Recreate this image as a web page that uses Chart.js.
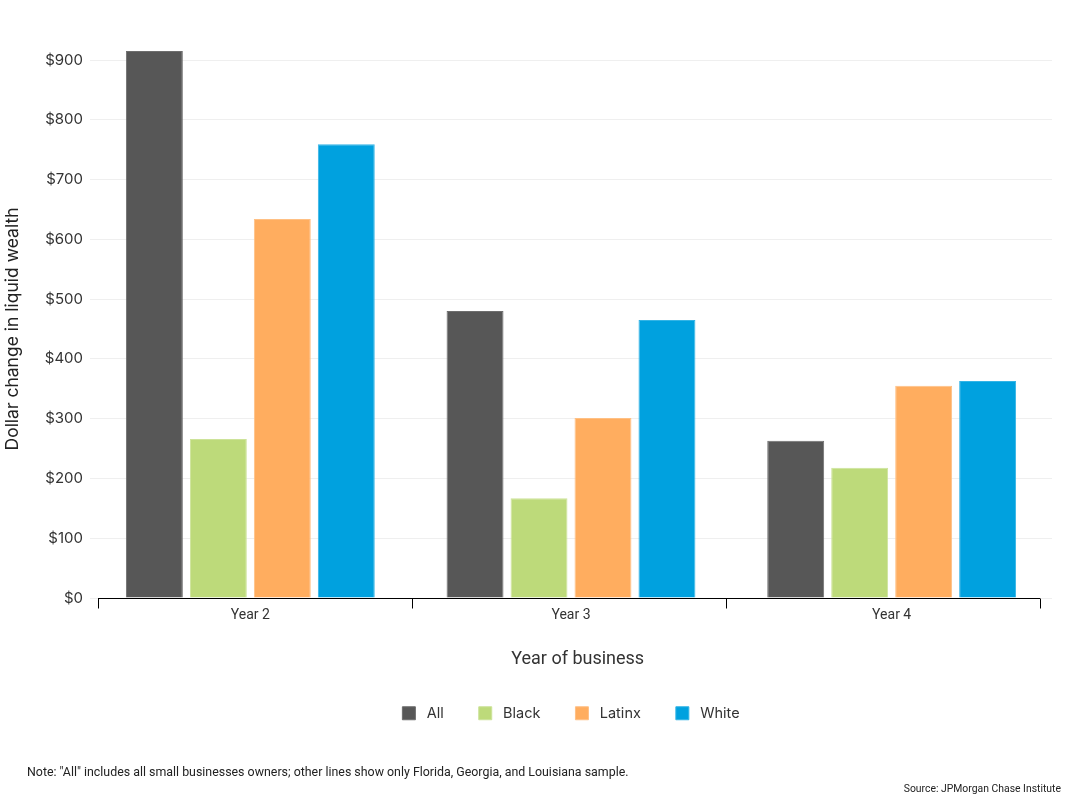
<!DOCTYPE html>
<html>
<head>
<meta charset="utf-8">
<script src="https://cdn.jsdelivr.net/npm/chart.js@4.4.1/dist/chart.umd.min.js"></script>
<style>
  html, body { margin: 0; padding: 0; background: #fff; }
  #wrap { position: relative; width: 1070px; height: 801px; }
  #c { position: absolute; left: 0; top: 0; }
  .note { position: absolute; font-family: Roboto, sans-serif; color: #222; white-space: nowrap; }
  #note { left: 27px; top: 764px; font-size: 12.4px; }
  #source { right: 9px; top: 782px; font-size: 10.4px; }
</style>
</head>
<body>
<div id="wrap">
  <canvas id="c" width="1070" height="801"></canvas>
  <div class="note" id="note">Note: "All" includes all small businesses owners; other lines show only Florida, Georgia, and Louisiana sample.</div>
  <div class="note" id="source">Source: JPMorgan Chase Institute</div>
</div>
<script>
const categories = ["Year 2", "Year 3", "Year 4"];
const seriesNames = ["All", "Black", "Latinx", "White"];
const allValues = [915, 480, 263];
const blackValues = [266, 167, 218];
const latinxValues = [634, 301, 355];
const whiteValues = [759, 465, 363];
const yTickValues = [0, 100, 200, 300, 400, 500, 600, 700, 800, 900];
const colors = ["#575757", "#bdda7a", "#ffad5f", "#00a1df"];
const borders = ["#6e6e6e", "#cde39a", "#ffc084", "#33b4e6"];

const seriesValues = [allValues, blackValues, latinxValues, whiteValues];

// custom x axis line with evenly spaced ticks, inset within the plot area
const axisLinePlugin = {
  id: 'axisLine',
  afterLayout(chart) {
    // centre the legend over the plot area
    const lg = chart.legend;
    if (lg) {
      lg.left = chart.chartArea.left;
      lg.right = chart.chartArea.right;
      lg.width = lg.right - lg.left;
      lg.top += 1;
      lg.bottom += 1;
    }
  },
  afterDatasetsDraw(chart) {
    const {ctx, chartArea} = chart;
    const x0 = chartArea.left + 8, x1 = chartArea.right - 12;
    const y = Math.round(chartArea.bottom) + 0.5;
    ctx.save();
    ctx.strokeStyle = '#000';
    ctx.lineWidth = 1;
    ctx.beginPath();
    ctx.moveTo(x0, y);
    ctx.lineTo(x1, y);
    const n = categories.length;
    for (let i = 0; i <= n; i++) {
      const x = Math.round(x0 + (x1 - x0) * i / n) + 0.5;
      ctx.moveTo(x, y);
      ctx.lineTo(x, y + 10);
    }
    ctx.stroke();
    ctx.restore();
  }
};

new Chart(document.getElementById('c'), {
  type: 'bar',
  data: {
    labels: categories,
    datasets: seriesNames.map((name, i) => ({
      label: ' ' + name,
      data: seriesValues[i],
      backgroundColor: colors[i],
      borderColor: borders[i],
      borderWidth: 1,
      barPercentage: 0.89,
      categoryPercentage: 0.798,
      clip: false
    }))
  },
  options: {
    responsive: false,
    animation: false,
    devicePixelRatio: 1,
    layout: { padding: { top: 60, right: 18, left: 0, bottom: 71.5 } },
    plugins: {
      legend: {
        position: 'bottom',
        labels: {
          boxWidth: 13,
          boxHeight: 13,
          padding: 35,
          color: '#333',
          font: { family: 'Inter', size: 14.5 }
        }
      },
      tooltip: { enabled: false }
    },
    scales: {
      x: {
        grid: { display: false, drawTicks: false },
        border: { display: false },
        ticks: {
          color: '#333',
          padding: 9,
          font: { family: 'Roboto', size: 14 }
        },
        title: {
          display: true,
          text: '   Year of business',
          color: '#333',
          padding: { top: 0, bottom: 0 },
          font: { family: 'Roboto', size: 18 }
        },
        afterFit(scale) { scale.height = 72; }
      },
      y: {
        min: 0,
        max: 900,
        grid: { color: '#efefef', drawTicks: false, lineWidth: 1 },
        border: { display: false },
        afterBuildTicks(scale) {
          scale.ticks = yTickValues.map(v => ({ value: v }));
        },
        ticks: {
          color: '#333',
          padding: 7,
          font: { family: 'Inter', size: 15 },
          callback: v => '$' + v
        },
        title: {
          display: true,
          text: 'Dollar change in liquid wealth',
          color: '#222',
          padding: { top: 2, bottom: 0 },
          font: { family: 'Inter', size: 17.5 }
        },
        afterFit(scale) { scale.width = 90; }
      }
    }
  },
  plugins: [axisLinePlugin]
});
</script>
</body>
</html>
